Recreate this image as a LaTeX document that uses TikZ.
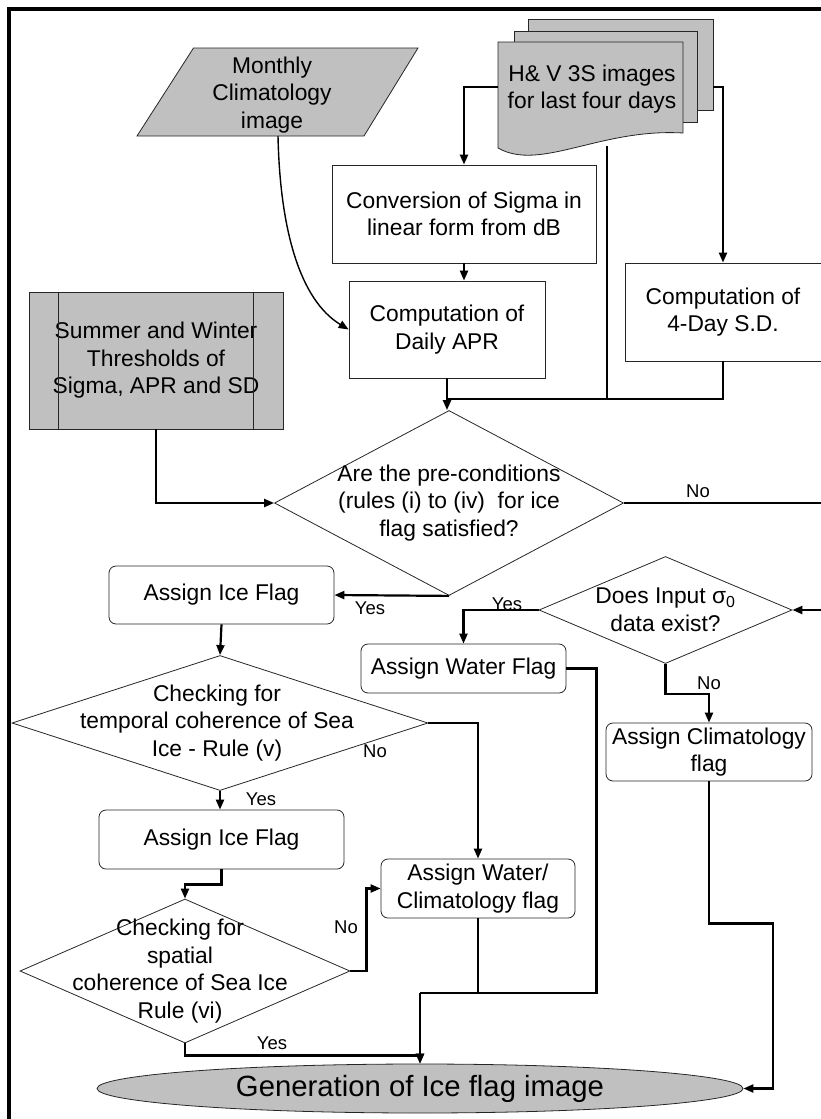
\documentclass[tikz,border=0pt]{standalone}
\usepackage{fontspec}
\setmainfont{Liberation Sans}
\usetikzlibrary{shapes.geometric,arrows.meta}
\definecolor{shade}{HTML}{C0C0C0}

\begin{document}
\begin{tikzpicture}[x=1pt, y=-1pt, >={Triangle[length=10pt,width=8pt]},
    proc node/.style={rectangle, draw=black!85, line width=0.8pt, align=center,
                      inner sep=2pt, font=\fontsize{22.8}{27.5}\selectfont},
    flag node/.style={proc node, rounded corners=7pt},
    decision node/.style={diamond, draw=black!85, line width=0.8pt, inner sep=0pt},
    decision text/.style={align=center, inner sep=0pt, font=\fontsize{22.8}{27.5}\selectfont},
    conn/.style={line width=2.2pt},
    lbl/.style={inner sep=0pt, font=\fontsize{18.5}{20}\selectfont}]
  \useasboundingbox (0,0) rectangle (820,1119);
  \draw[line width=4pt] (9,9) rectangle (860,1160);

  % inputs
  \draw[draw=black!85, line width=0.8pt, fill=shade] (193.5,48) -- (418,48) -- (364,136) -- (137,136) -- cycle;
  \node[decision text] (clim) at (272,95) {Monthly\\Climatology\\image};
  \coordinate (climB) at (278,136);

  \draw[draw=black!85, line width=0.8pt, fill=shade] (528,19) rectangle (713,110);
  \draw[draw=black!85, line width=0.8pt, fill=shade] (514,31) rectangle (697,122);
  \draw[draw=black!85, line width=0.8pt, fill=shade] (498,42) -- (683,42) -- (683,133)
    .. controls (600,128) and (540,172) .. (498,148) -- cycle;
  \node[decision text] (hv) at (592,89) {H\& V 3S images\\for last four days};
  \coordinate (docL) at (498,87);
  \coordinate (docR) at (713,87);
  \coordinate (docB) at (607,146);

  % processing
  \node[proc node, minimum width=264pt, minimum height=98pt] (conv) at (464,214) {Conversion of Sigma in\\linear form from dB};
  \node[proc node, minimum width=196pt, minimum height=97pt] (apr) at (447,329.5) {Computation of\\Daily APR};
  \node[proc node, minimum width=196pt, minimum height=98pt] (sd) at (723,312) {Computation of\\4-Day S.D.};
  \node[proc node, fill=shade, minimum width=254pt, minimum height=137pt] (thresh) at (156,360.5) {Summer and Winter\\Thresholds of\\Sigma, APR and SD};
  \draw[black!85, line width=0.8pt] ([xshift=30pt]thresh.north west) -- ([xshift=30pt]thresh.south west);
  \draw[black!85, line width=0.8pt] ([xshift=-30pt]thresh.north east) -- ([xshift=-30pt]thresh.south east);
  \coordinate (merge) at (448,399);

  % decisions and flags
  \node[decision node, minimum width=349pt, minimum height=185pt,
        label={[decision text]center:{Are the pre-conditions\\(rules (i) to (iv)~ for ice\\flag satisfied?}}] (pre) at (449,503) {};
  \node[flag node, minimum width=225pt, minimum height=58pt] (ice1) at (221.5,595) {Assign Ice Flag};
  \node[decision node, minimum width=416pt, minimum height=135pt,
        label={[decision text, xshift=-3pt]center:{Checking for\\temporal coherence of Sea\\Ice - Rule (v)}}] (temporal) at (220,723) {};
  \node[flag node, minimum width=245pt, minimum height=59pt] (ice2) at (221.5,839.5) {Assign Ice Flag};
  \node[decision node, minimum width=330pt, minimum height=144pt,
        label={[decision text, xshift=-5pt]center:{Checking for\\spatial\\coherence of Sea Ice\\Rule (vi)}}] (spatial) at (185,971) {};
  \node[flag node, minimum width=194pt, minimum height=59pt] (wc) at (478,888.5) {Assign Water/\\Climatology flag};
  \node[decision node, minimum width=253pt, minimum height=107pt,
        label={[decision text]center:{Does Input σ\textsubscript{0}\\data exist?}}] (exist) at (665.5,610) {};
  \node[flag node, minimum width=205pt, minimum height=49pt] (water) at (463.5,668.5) {Assign Water Flag};
  \node[flag node, minimum width=206pt, minimum height=58pt] (climflag) at (709,752) {Assign Climatology\\flag};
  \node[ellipse, draw=black!85, line width=0.8pt, fill=shade, minimum width=646pt, minimum height=49pt,
        inner sep=0pt, font=\fontsize{29.3}{32}\selectfont] (gen) at (420,1088.5) {Generation of Ice flag image};
  \coordinate (merge2) at (420,993);

  % connectors
  \draw[conn,->] (docL) -| (conv.north);
  \draw[conn,->] (docR) -| (sd.north);
  \draw[conn,->] (conv.south) -- (conv.south |- apr.north);
  \draw[line width=1.4pt,->] (climB) .. controls (280,230) and (300,300) .. (apr.west);
  \draw[conn] (docB) |- (merge);
  \draw[conn] (sd.south) |- (merge);
  \draw[conn,->] (apr.south) -- (apr.south |- pre.north);
  \draw[conn,->] (thresh.south) |- (pre.west);
  \draw[conn,->] (pre.east) -- ++(230,0) |- (exist.east);
  \draw[conn,->] (pre.south) -- (ice1.east);
  \draw[conn,->] (ice1.south) -- (temporal.north);
  \draw[conn,->] (temporal.east) -| (wc.north);
  \draw[conn,->] (temporal.south) -- (temporal.south |- ice2.north);
  \draw[conn,->] (ice2.south) -- ++(0,15) -| (spatial.north);
  \draw[conn,->] (spatial.east) -- ++(16,0) |- (wc.west);
  \draw[conn,->] (spatial.south) -- ++(0,12) -| (gen.north);
  \draw[conn] (wc.south) |- (merge2);
  \draw[conn] (water.east) -- ++(30,0) |- (merge2);
  \draw[conn,->] (merge2) -- (gen.north);
  \draw[conn,->] (exist.west) -| (water.north);
  \draw[conn,->] (exist.south) -- ++(0,30) -| (climflag.north);
  \draw[conn,->] (climflag.south) -- ++(0,142) -- ++(64,0) |- (gen.east);

  % branch labels
  \node[lbl] (no1) at (698,491) {No};
  \node[lbl] (yes1) at (370,608) {Yes};
  \node[lbl] (no2) at (375,751) {No};
  \node[lbl] (yes2) at (261,799) {Yes};
  \node[lbl] (no3) at (346,927) {No};
  \node[lbl] (yes3) at (272,1043) {Yes};
  \node[lbl] (yes4) at (507,604) {Yes};
  \node[lbl] (no4) at (709,683) {No};
\end{tikzpicture}
\end{document}
